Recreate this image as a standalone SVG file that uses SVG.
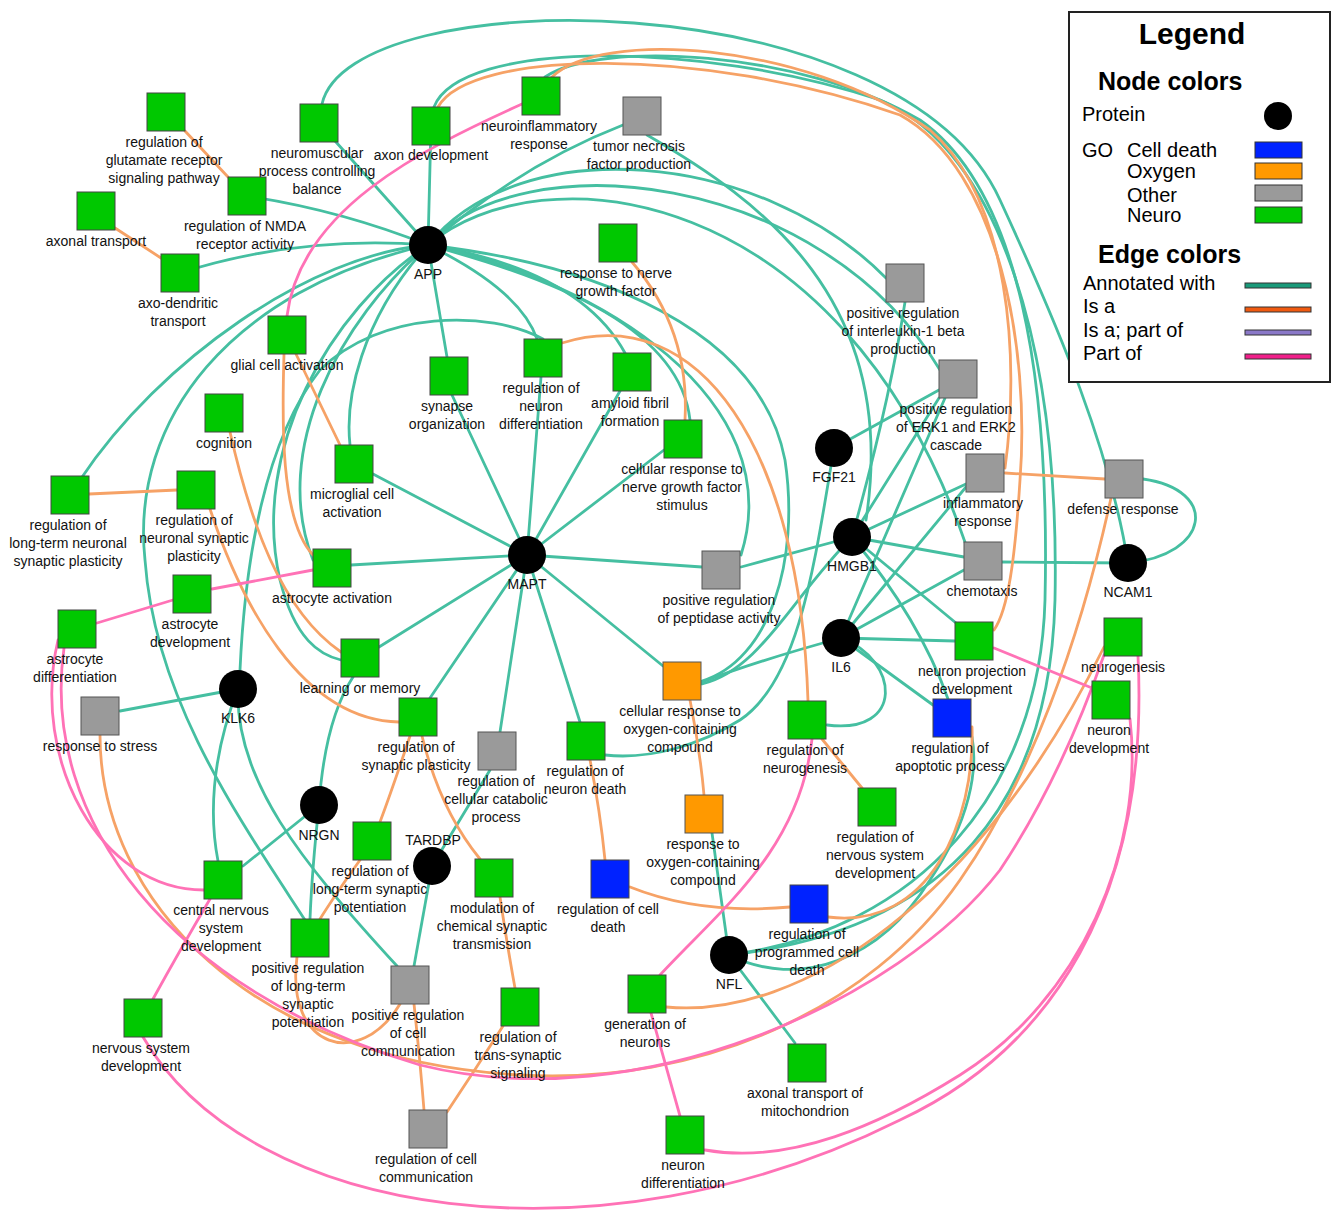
<svg xmlns="http://www.w3.org/2000/svg" width="1333" height="1222" viewBox="0 0 1333 1222">
<style>
.t{fill:none;stroke:#45bfa1;stroke-width:2.8;stroke-linecap:round}
.o{fill:none;stroke:#f6a266;stroke-width:2.8;stroke-linecap:round}
.p{fill:none;stroke:#ff72b6;stroke-width:2.8;stroke-linecap:round}
.g{fill:#00c800;stroke:#444;stroke-width:1}
.y{fill:#9a9a9a;stroke:#555;stroke-width:1}
.or{fill:#ff9900;stroke:#555;stroke-width:1}
.b{fill:#0022ff;stroke:#444;stroke-width:1}
.pr{fill:#000}
.lbl{font-family:"Liberation Sans",Arial,sans-serif;font-size:14px;fill:#111;text-anchor:middle}
.lg{font-family:"Liberation Sans",Arial,sans-serif;fill:#000}
</style>
<rect width="1333" height="1222" fill="#fff"/>
<g id="edges">
<!-- teal: annotated with -->
<path class="t" d="M428 245 L319 123"/>
<path class="t" d="M428 245 L431 126"/>
<path class="t" d="M428 245 Q340 210 247 196"/>
<path class="t" d="M428 245 Q300 235 180 273"/>
<path class="t" d="M428 245 C310 255 160 360 80 480"/>
<path class="t" d="M428 245 C230 290 130 420 145 560 C155 700 240 820 305 920"/>
<path class="t" d="M428 245 C330 310 250 450 280 580 C295 640 320 655 341 660"/>
<path class="t" d="M428 245 C340 320 270 450 313 560"/>
<path class="t" d="M428 245 C360 320 345 400 350 445"/>
<path class="t" d="M240 670 C245 560 265 440 320 370 C380 310 490 310 543 339"/>
<path class="t" d="M428 245 L447 357"/>
<path class="t" d="M428 245 Q520 290 537 339"/>
<path class="t" d="M428 245 Q580 270 625 353"/>
<path class="t" d="M428 245 C560 280 680 330 690 420"/>
<path class="t" d="M428 245 C600 280 790 400 741 555"/>
<path class="t" d="M428 245 C600 265 760 330 785 460 C800 560 770 660 702 681"/>
<path class="t" d="M428 245 Q520 165 623 125"/>
<path class="t" d="M428 245 C520 130 760 150 886 278"/>
<path class="t" d="M428 245 C520 140 820 170 940 370"/>
<path class="t" d="M428 245 C540 150 840 180 966 545"/>
<path class="t" d="M647 135 C760 200 900 300 866 520"/>
<path class="t" d="M852 537 Q890 400 905 302"/>
<path class="t" d="M852 537 L939 398"/>
<path class="t" d="M834 448 L939 390"/>
<path class="t" d="M852 537 L966 484"/>
<path class="t" d="M852 537 L964 557"/>
<path class="t" d="M852 537 L956 623"/>
<path class="t" d="M852 537 Q920 620 948 699"/>
<path class="t" d="M852 537 L741 567"/>
<path class="t" d="M852 537 C790 600 760 670 702 684"/>
<path class="t" d="M841 638 Q760 660 702 682"/>
<path class="t" d="M834 448 C815 560 800 680 740 720 C700 745 650 760 605 755"/>
<path class="t" d="M841 638 L945 398"/>
<path class="t" d="M841 638 L966 487"/>
<path class="t" d="M841 638 L964 570"/>
<path class="t" d="M841 638 L955 641"/>
<path class="t" d="M841 638 L933 705"/>
<path class="t" d="M841 638 C900 660 905 735 827 725"/>
<path class="t" d="M1002 562 L1128 563"/>
<path class="t" d="M1143 479 C1220 490 1210 555 1128 563"/>
<path class="t" d="M322 104 C350 -20 900 -20 1000 200 C1060 330 1110 450 1128 563"/>
<path class="t" d="M434 107 C460 40 700 40 880 100 C1000 150 1060 350 1055 600 C1050 800 950 930 729 955"/>
<path class="t" d="M545 77 C600 40 800 50 920 120 C1020 190 1050 380 1045 600 C1040 790 920 930 729 955"/>
<path class="t" d="M729 955 C800 990 880 960 930 880 C970 820 978 770 972 737"/>
<path class="t" d="M729 955 L795 1043"/>
<path class="t" d="M712 833 L729 955"/>
<path class="t" d="M319 805 Q312 870 310 919"/>
<path class="t" d="M319 805 Q325 720 353 677"/>
<path class="t" d="M319 805 L243 866"/>
<path class="t" d="M238 689 C210 760 210 820 218 861"/>
<path class="t" d="M238 689 L120 711"/>
<path class="t" d="M238 689 C235 780 300 860 397 966"/>
<path class="t" d="M432 866 L414 966"/>
<path class="t" d="M432 866 L490 770"/>
<path class="t" d="M527 555 L452 395"/>
<path class="t" d="M527 555 L541 377"/>
<path class="t" d="M527 555 L620 391"/>
<path class="t" d="M527 555 L664 450"/>
<path class="t" d="M527 555 L702 567"/>
<path class="t" d="M527 555 L663 666"/>
<path class="t" d="M527 555 L580 722"/>
<path class="t" d="M527 555 L500 732"/>
<path class="t" d="M527 555 L430 698"/>
<path class="t" d="M527 555 L379 647"/>
<path class="t" d="M527 555 L351 565"/>
<path class="t" d="M527 555 L373 474"/>
<!-- orange: is a -->
<path class="o" d="M185 131 L228 177"/>
<path class="o" d="M115 228 L161 258"/>
<path class="o" d="M296 354 L340 445"/>
<path class="o" d="M284 354 C282 420 280 520 313 555"/>
<path class="o" d="M230 432 C250 520 280 610 341 652"/>
<path class="o" d="M177 490 L89 494"/>
<path class="o" d="M210 509 C240 600 300 720 399 722"/>
<path class="o" d="M562 343 C700 300 800 450 808 701"/>
<path class="o" d="M632 262 Q690 330 685 420"/>
<path class="o" d="M690 700 Q700 750 704 795"/>
<path class="o" d="M590 760 Q600 810 605 860"/>
<path class="o" d="M630 887 Q700 915 790 907"/>
<path class="o" d="M972 727 C975 820 930 930 828 917"/>
<path class="o" d="M410 736 Q392 790 380 822"/>
<path class="o" d="M422 736 Q440 810 480 859"/>
<path class="o" d="M360 860 Q335 895 320 919"/>
<path class="o" d="M500 897 Q508 950 515 988"/>
<path class="o" d="M503 1026 Q475 1070 447 1112"/>
<path class="o" d="M414 1004 Q420 1060 424 1110"/>
<path class="o" d="M297 957 C285 1050 360 1070 400 1004"/>
<path class="o" d="M822 739 L862 788"/>
<path class="o" d="M666 1007 C800 1020 980 900 1104 647"/>
<path class="o" d="M100 735 C100 900 250 1060 520 1075 C700 1085 870 1010 960 880 C1030 780 1080 640 1111 498"/>
<path class="o" d="M1005 473 L1105 479"/>
<path class="o" d="M552 77 C600 30 800 40 930 130 C1010 200 1020 360 1005 468"/>
<path class="o" d="M438 107 C470 50 700 45 900 115 C1000 170 1030 350 1020 480 C1015 560 1008 610 994 630"/>
<!-- pink: part of -->
<path class="p" d="M522 104 C420 150 300 210 287 316"/>
<path class="p" d="M313 570 L212 589"/>
<path class="p" d="M173 600 L97 623"/>
<path class="p" d="M58 640 C30 760 100 890 204 890"/>
<path class="p" d="M64 648 C40 820 170 990 420 1065 C640 1120 900 1000 1000 870 Q1060 780 1104 655"/>
<path class="p" d="M210 899 Q180 950 153 999"/>
<path class="p" d="M143 1037 C250 1220 600 1270 900 1120 C1050 1050 1150 900 1138 656"/>
<path class="p" d="M1130 719 C1145 850 1080 1000 960 1075 C880 1125 790 1165 705 1150"/>
<path class="p" d="M994 648 L1092 688"/>
<path class="p" d="M812 739 C800 850 720 910 660 975"/>
<path class="p" d="M651 1013 L680 1116"/>
</g>
<g id="n-APP"><circle class="pr" cx="428" cy="245" r="19"/><text class="lbl" x="428" y="279">APP</text></g>
<g id="n-MAPT"><circle class="pr" cx="527" cy="555" r="19"/><text class="lbl" x="527" y="589">MAPT</text></g>
<g id="n-FGF21"><circle class="pr" cx="834" cy="448" r="19"/><text class="lbl" x="834" y="482">FGF21</text></g>
<g id="n-HMGB1"><circle class="pr" cx="852" cy="537" r="19"/><text class="lbl" x="852" y="571">HMGB1</text></g>
<g id="n-NCAM1"><circle class="pr" cx="1128" cy="563" r="19"/><text class="lbl" x="1128" y="597">NCAM1</text></g>
<g id="n-IL6"><circle class="pr" cx="841" cy="638" r="19"/><text class="lbl" x="841" y="672">IL6</text></g>
<g id="n-KLK6"><circle class="pr" cx="238" cy="689" r="19"/><text class="lbl" x="238" y="723">KLK6</text></g>
<g id="n-NRGN"><circle class="pr" cx="319" cy="805" r="19"/><text class="lbl" x="319" y="840">NRGN</text></g>
<g id="n-TARDBP"><circle class="pr" cx="432" cy="866" r="19"/><text class="lbl" x="433" y="845">TARDBP</text></g>
<g id="n-NFL"><circle class="pr" cx="729" cy="955" r="19"/><text class="lbl" x="729" y="989">NFL</text></g>
<g id="n-glut"><rect class="g" x="147" y="93" width="38" height="38"/><text class="lbl" x="164" y="147">regulation of<tspan x="164" dy="18">glutamate receptor</tspan><tspan x="164" dy="18">signaling pathway</tspan></text></g>
<g id="n-neuromusc"><rect class="g" x="300" y="104" width="38" height="38"/><text class="lbl" x="317" y="158">neuromuscular<tspan x="317" dy="18">process controlling</tspan><tspan x="317" dy="18">balance</tspan></text></g>
<g id="n-axondev"><rect class="g" x="412" y="107" width="38" height="38"/><text class="lbl" x="431" y="160">axon development</text></g>
<g id="n-neuroinfl"><rect class="g" x="522" y="77" width="38" height="38"/><text class="lbl" x="539" y="131">neuroinflammatory<tspan x="539" dy="18">response</tspan></text></g>
<g id="n-tnf"><rect class="y" x="623" y="97" width="38" height="38"/><text class="lbl" x="639" y="151">tumor necrosis<tspan x="639" dy="18">factor production</tspan></text></g>
<g id="n-nmda"><rect class="g" x="228" y="177" width="38" height="38"/><text class="lbl" x="245" y="231">regulation of NMDA<tspan x="245" dy="18">receptor activity</tspan></text></g>
<g id="n-axtrans"><rect class="g" x="77" y="192" width="38" height="38"/><text class="lbl" x="96" y="246">axonal transport</text></g>
<g id="n-axodend"><rect class="g" x="161" y="254" width="38" height="38"/><text class="lbl" x="178" y="308">axo-dendritic<tspan x="178" dy="18">transport</tspan></text></g>
<g id="n-glial"><rect class="g" x="268" y="316" width="38" height="38"/><text class="lbl" x="287" y="370">glial cell activation</text></g>
<g id="n-rnGF"><rect class="g" x="599" y="224" width="38" height="38"/><text class="lbl" x="616" y="278">response to nerve<tspan x="616" dy="18">growth factor</tspan></text></g>
<g id="n-il1b"><rect class="y" x="886" y="264" width="38" height="38"/><text class="lbl" x="903" y="318">positive regulation<tspan x="903" dy="18">of interleukin-1 beta</tspan><tspan x="903" dy="18">production</tspan></text></g>
<g id="n-erk"><rect class="y" x="939" y="360" width="38" height="38"/><text class="lbl" x="956" y="414">positive regulation<tspan x="956" dy="18">of ERK1 and ERK2</tspan><tspan x="956" dy="18">cascade</tspan></text></g>
<g id="n-inflam"><rect class="y" x="966" y="454" width="38" height="38"/><text class="lbl" x="983" y="508">inflammatory<tspan x="983" dy="18">response</tspan></text></g>
<g id="n-defense"><rect class="y" x="1105" y="460" width="38" height="38"/><text class="lbl" x="1123" y="514">defense response</text></g>
<g id="n-chemo"><rect class="y" x="964" y="542" width="38" height="38"/><text class="lbl" x="982" y="596">chemotaxis</text></g>
<g id="n-npd"><rect class="g" x="955" y="622" width="38" height="38"/><text class="lbl" x="972" y="676">neuron projection<tspan x="972" dy="18">development</tspan></text></g>
<g id="n-apop"><rect class="b" x="933" y="699" width="38" height="38"/><text class="lbl" x="950" y="753">regulation of<tspan x="950" dy="18">apoptotic process</tspan></text></g>
<g id="n-neurogen"><rect class="g" x="1104" y="618" width="38" height="38"/><text class="lbl" x="1123" y="672">neurogenesis</text></g>
<g id="n-neurondev"><rect class="g" x="1092" y="681" width="38" height="38"/><text class="lbl" x="1109" y="735">neuron<tspan x="1109" dy="18">development</tspan></text></g>
<g id="n-rnsd"><rect class="g" x="858" y="788" width="38" height="38"/><text class="lbl" x="875" y="842">regulation of<tspan x="875" dy="18">nervous system</tspan><tspan x="875" dy="18">development</tspan></text></g>
<g id="n-rpcd"><rect class="b" x="790" y="885" width="38" height="38"/><text class="lbl" x="807" y="939">regulation of<tspan x="807" dy="18">programmed cell</tspan><tspan x="807" dy="18">death</tspan></text></g>
<g id="n-rneurogen"><rect class="g" x="788" y="701" width="38" height="38"/><text class="lbl" x="805" y="755">regulation of<tspan x="805" dy="18">neurogenesis</tspan></text></g>
<g id="n-rnd"><rect class="g" x="567" y="722" width="38" height="38"/><text class="lbl" x="585" y="776">regulation of<tspan x="585" dy="18">neuron death</tspan></text></g>
<g id="n-rccp"><rect class="y" x="478" y="732" width="38" height="38"/><text class="lbl" x="496" y="786">regulation of<tspan x="496" dy="18">cellular catabolic</tspan><tspan x="496" dy="18">process</tspan></text></g>
<g id="n-roxy"><rect class="or" x="685" y="795" width="38" height="38"/><text class="lbl" x="703" y="849">response to<tspan x="703" dy="18">oxygen-containing</tspan><tspan x="703" dy="18">compound</tspan></text></g>
<g id="n-rcd"><rect class="b" x="591" y="860" width="38" height="38"/><text class="lbl" x="608" y="914">regulation of cell<tspan x="608" dy="18">death</tspan></text></g>
<g id="n-genneur"><rect class="g" x="628" y="975" width="38" height="38"/><text class="lbl" x="645" y="1029">generation of<tspan x="645" dy="18">neurons</tspan></text></g>
<g id="n-atm"><rect class="g" x="788" y="1044" width="38" height="38"/><text class="lbl" x="805" y="1098">axonal transport of<tspan x="805" dy="18">mitochondrion</tspan></text></g>
<g id="n-ndiff"><rect class="g" x="666" y="1116" width="38" height="38"/><text class="lbl" x="683" y="1170">neuron<tspan x="683" dy="18">differentiation</tspan></text></g>
<g id="n-rtss"><rect class="g" x="501" y="988" width="38" height="38"/><text class="lbl" x="518" y="1042">regulation of<tspan x="518" dy="18">trans-synaptic</tspan><tspan x="518" dy="18">signaling</tspan></text></g>
<g id="n-mcst"><rect class="g" x="475" y="859" width="38" height="38"/><text class="lbl" x="492" y="913">modulation of<tspan x="492" dy="18">chemical synaptic</tspan><tspan x="492" dy="18">transmission</tspan></text></g>
<g id="n-prcc"><rect class="y" x="391" y="966" width="38" height="38"/><text class="lbl" x="408" y="1020">positive regulation<tspan x="408" dy="18">of cell</tspan><tspan x="408" dy="18">communication</tspan></text></g>
<g id="n-rcc"><rect class="y" x="409" y="1110" width="38" height="38"/><text class="lbl" x="426" y="1164">regulation of cell<tspan x="426" dy="18">communication</tspan></text></g>
<g id="n-prltp"><rect class="g" x="291" y="919" width="38" height="38"/><text class="lbl" x="308" y="973">positive regulation<tspan x="308" dy="18">of long-term</tspan><tspan x="308" dy="18">synaptic</tspan><tspan x="308" dy="18">potentiation</tspan></text></g>
<g id="n-rltp"><rect class="g" x="353" y="822" width="38" height="38"/><text class="lbl" x="370" y="876">regulation of<tspan x="370" dy="18">long-term synaptic</tspan><tspan x="370" dy="18">potentiation</tspan></text></g>
<g id="n-cnsd"><rect class="g" x="204" y="861" width="38" height="38"/><text class="lbl" x="221" y="915">central nervous<tspan x="221" dy="18">system</tspan><tspan x="221" dy="18">development</tspan></text></g>
<g id="n-nsd"><rect class="g" x="124" y="999" width="38" height="38"/><text class="lbl" x="141" y="1053">nervous system<tspan x="141" dy="18">development</tspan></text></g>
<g id="n-rsp"><rect class="g" x="399" y="698" width="38" height="38"/><text class="lbl" x="416" y="752">regulation of<tspan x="416" dy="18">synaptic plasticity</tspan></text></g>
<g id="n-lom"><rect class="g" x="341" y="639" width="38" height="38"/><text class="lbl" x="360" y="693">learning or memory</text></g>
<g id="n-rstress"><rect class="y" x="81" y="697" width="38" height="38"/><text class="lbl" x="100" y="751">response to stress</text></g>
<g id="n-astdiff"><rect class="g" x="58" y="610" width="38" height="38"/><text class="lbl" x="75" y="664">astrocyte<tspan x="75" dy="18">differentiation</tspan></text></g>
<g id="n-astdev"><rect class="g" x="173" y="575" width="38" height="38"/><text class="lbl" x="190" y="629">astrocyte<tspan x="190" dy="18">development</tspan></text></g>
<g id="n-astact"><rect class="g" x="313" y="549" width="38" height="38"/><text class="lbl" x="332" y="603">astrocyte activation</text></g>
<g id="n-rltnsp"><rect class="g" x="51" y="476" width="38" height="38"/><text class="lbl" x="68" y="530">regulation of<tspan x="68" dy="18">long-term neuronal</tspan><tspan x="68" dy="18">synaptic plasticity</tspan></text></g>
<g id="n-rnsp"><rect class="g" x="177" y="471" width="38" height="38"/><text class="lbl" x="194" y="525">regulation of<tspan x="194" dy="18">neuronal synaptic</tspan><tspan x="194" dy="18">plasticity</tspan></text></g>
<g id="n-cog"><rect class="g" x="205" y="394" width="38" height="38"/><text class="lbl" x="224" y="448">cognition</text></g>
<g id="n-micro"><rect class="g" x="335" y="445" width="38" height="38"/><text class="lbl" x="352" y="499">microglial cell<tspan x="352" dy="18">activation</tspan></text></g>
<g id="n-synorg"><rect class="g" x="430" y="357" width="38" height="38"/><text class="lbl" x="447" y="411">synapse<tspan x="447" dy="18">organization</tspan></text></g>
<g id="n-rndiff"><rect class="g" x="524" y="339" width="38" height="38"/><text class="lbl" x="541" y="393">regulation of<tspan x="541" dy="18">neuron</tspan><tspan x="541" dy="18">differentiation</tspan></text></g>
<g id="n-amy"><rect class="g" x="613" y="353" width="38" height="38"/><text class="lbl" x="630" y="408">amyloid fibril<tspan x="630" dy="18">formation</tspan></text></g>
<g id="n-crngf"><rect class="g" x="664" y="420" width="38" height="38"/><text class="lbl" x="682" y="474">cellular response to<tspan x="682" dy="18">nerve growth factor</tspan><tspan x="682" dy="18">stimulus</tspan></text></g>
<g id="n-pept"><rect class="y" x="702" y="551" width="38" height="38"/><text class="lbl" x="719" y="605">positive regulation<tspan x="719" dy="18">of peptidase activity</tspan></text></g>
<g id="n-croxy"><rect class="or" x="663" y="662" width="38" height="38"/><text class="lbl" x="680" y="716">cellular response to<tspan x="680" dy="18">oxygen-containing</tspan><tspan x="680" dy="18">compound</tspan></text></g>
<g id="legend">
<rect x="1069" y="12" width="261" height="370" fill="#fff" stroke="#222" stroke-width="2"/>
<text class="lg" x="1192" y="44" font-size="30" font-weight="bold" text-anchor="middle">Legend</text>
<text class="lg" x="1098" y="90" font-size="25" font-weight="bold">Node colors</text>
<text class="lg" x="1082" y="121" font-size="20">Protein</text>
<circle cx="1278" cy="116" r="14" fill="#000"/>
<text class="lg" x="1082" y="157" font-size="20">GO</text>
<text class="lg" x="1127" y="157" font-size="20">Cell death</text>
<text class="lg" x="1127" y="178" font-size="20">Oxygen</text>
<text class="lg" x="1127" y="202" font-size="20">Other</text>
<text class="lg" x="1127" y="222" font-size="20">Neuro</text>
<rect x="1255" y="142" width="47" height="16" fill="#0022ff" stroke="#333"/>
<rect x="1255" y="163" width="47" height="16" fill="#ff9900" stroke="#333"/>
<rect x="1255" y="185" width="47" height="16" fill="#9a9a9a" stroke="#333"/>
<rect x="1255" y="207" width="47" height="16" fill="#00c800" stroke="#333"/>
<text class="lg" x="1098" y="263" font-size="25" font-weight="bold">Edge colors</text>
<text class="lg" x="1083" y="290" font-size="20">Annotated with</text>
<text class="lg" x="1083" y="313" font-size="20">Is a</text>
<text class="lg" x="1083" y="337" font-size="20">Is a; part of</text>
<text class="lg" x="1083" y="360" font-size="20">Part of</text>
<rect x="1245" y="283" width="66" height="5" fill="#1a9a7a" stroke="#333" stroke-width="1"/>
<rect x="1245" y="307" width="66" height="5" fill="#f05a10" stroke="#333" stroke-width="1"/>
<rect x="1245" y="330" width="66" height="5" fill="#8a78c8" stroke="#333" stroke-width="1"/>
<rect x="1245" y="354" width="66" height="5" fill="#f0208a" stroke="#333" stroke-width="1"/>
</g>
</svg>
